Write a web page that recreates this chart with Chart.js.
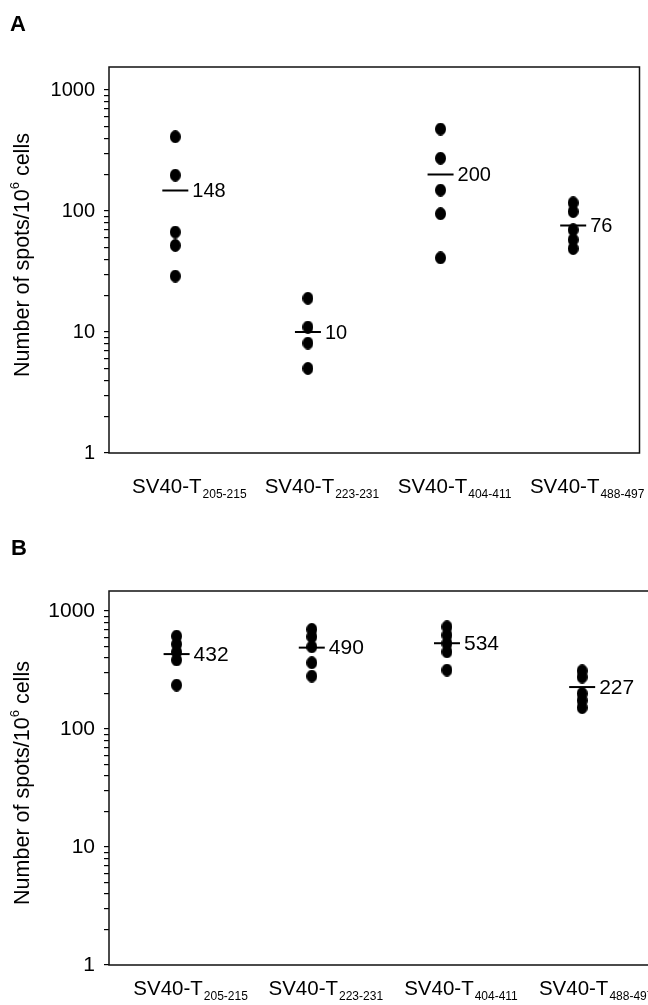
<!DOCTYPE html>
<html>
<head>
<meta charset="utf-8">
<script src="https://cdn.jsdelivr.net/npm/chart.js@4.4.1/dist/chart.umd.min.js"></script>
<style>
  html, body { margin: 0; padding: 0; background: #fff; overflow: hidden; }
  body { width: 648px; height: 1005px; position: relative; }
  canvas { position: absolute; left: 0; display: block; }
  #chartA { top: 0; }
  #chartB { top: 520px; }
</style>
</head>
<body>
<canvas id="chartA" width="648" height="520"></canvas>
<canvas id="chartB" width="648" height="485"></canvas>
<script>
// ========== Data ==========

const labelMain = 'SV40-T';
const labelSubs = ['205-215', '223-231', '404-411', '488-497'];
const yMajorTicks = [1, 10, 100, 1000];

// Panel A: spots per 10^6 cells, one array per peptide
const aSpots205 = [411, 198, 67, 52, 29];
const aSpots223 = [19, 11, 8.1, 5];
const aSpots404 = [476, 273, 149, 95, 41];
const aSpots488 = [117, 99, 70, 58, 49];
const aMeans = [148, 10, 200, 76];

// Panel B
const bSpots205 = [614, 525, 450, 385, 236];
const bSpots223 = [700, 606, 498, 365, 281];
const bSpots404 = [736, 626, 532, 452, 316];
const bSpots488 = [312, 276, 200, 175, 152];
const bMeans = [432, 490, 534, 227];

// ========== Helpers ==========

const FONT = '"Liberation Sans", Arial, Helvetica, sans-serif';

// minor ticks 1..9 per decade, up to the top major tick
const yTickValues = [];
yMajorTicks.forEach((m, i) => {
  if (i === yMajorTicks.length - 1) { yTickValues.push(m); return; }
  for (let k = 1; k <= 9; k++) yTickValues.push(m * k);
});

function makeDot(w, h) {
  const c = document.createElement('canvas');
  c.width = w;
  c.height = h;
  const g = c.getContext('2d');
  g.fillStyle = '#000';
  g.beginPath();
  g.ellipse(w / 2, h / 2, w / 2, h / 2, 0, 0, Math.PI * 2);
  g.fill();
  return c;
}

const dot = makeDot(11, 13);

function toPoints(groups) {
  const pts = [];
  groups.forEach((vals, i) => vals.forEach(v => pts.push({ x: i, y: v })));
  return pts;
}

// frame, mean labels, category labels, axis title, panel letter
function decorPlugin(cfg) {
  return {
    id: 'decor',
    afterDatasetsDraw(chart) {
      const ctx = chart.ctx;
      ctx.save();
      ctx.fillStyle = '#000';
      ctx.font = `${cfg.valueSize}px ${FONT}`;
      ctx.textAlign = 'left';
      ctx.textBaseline = 'middle';
      chart.getDatasetMeta(1).data.forEach((pt, i) => {
        ctx.fillText(String(cfg.means[i]), pt.x + 17, pt.y + 1);
      });
      ctx.restore();
    },
    afterDraw(chart) {
      const ctx = chart.ctx;
      const a = chart.chartArea;
      ctx.save();

      // frame (panel B runs off the right edge, so no right side)
      ctx.strokeStyle = '#111';
      ctx.lineWidth = 1.5;
      ctx.beginPath();
      if (cfg.rightSide) {
        ctx.rect(a.left, a.top, a.right - a.left, a.bottom - a.top);
      } else {
        ctx.moveTo(chart.width, a.top);
        ctx.lineTo(a.left, a.top);
        ctx.lineTo(a.left, a.bottom);
        ctx.lineTo(chart.width, a.bottom);
      }
      ctx.stroke();

      // category labels with subscripts
      ctx.fillStyle = '#000';
      ctx.textAlign = 'left';
      ctx.textBaseline = 'alphabetic';
      labelSubs.forEach((sub, i) => {
        ctx.font = `${cfg.catSize}px ${FONT}`;
        const wMain = ctx.measureText(labelMain).width;
        ctx.font = `${cfg.subSize}px ${FONT}`;
        const wSub = ctx.measureText(sub).width;
        const cx = chart.scales.x.getPixelForValue(i) + 14;
        const left = cx - (wMain + wSub + 1) / 2;
        ctx.font = `${cfg.catSize}px ${FONT}`;
        ctx.fillText(labelMain, left, cfg.catY);
        ctx.font = `${cfg.subSize}px ${FONT}`;
        ctx.fillText(sub, left + wMain + 1, cfg.catY + 5);
      });

      // y axis title with superscript
      const parts = [
        { t: 'Number of spots/10', s: cfg.titleSize, dy: 0 },
        { t: '6', s: Math.round(cfg.titleSize * 0.62), dy: -cfg.titleSize * 0.42 },
        { t: ' cells', s: cfg.titleSize, dy: 0 },
      ];
      let total = 0;
      parts.forEach(p => { ctx.font = `${p.s}px ${FONT}`; p.w = ctx.measureText(p.t).width; total += p.w; });
      ctx.translate(cfg.titleX, cfg.titleCY);
      ctx.rotate(-Math.PI / 2);
      let x = -total / 2;
      parts.forEach(p => { ctx.font = `${p.s}px ${FONT}`; ctx.fillText(p.t, x, p.dy); x += p.w; });
      ctx.setTransform(1, 0, 0, 1, 0, 0);

      // panel letter
      ctx.font = `bold 22px ${FONT}`;
      ctx.fillText(cfg.letter, cfg.letterX, cfg.letterY);
      ctx.restore();
    },
  };
}

// ========== Charts ==========

function makePanel(canvasId, groups, means, cfg) {
  const ctx = document.getElementById(canvasId).getContext('2d');
  return new Chart(ctx, {
    type: 'scatter',
    data: {
      datasets: [{
        label: 'Spots',
        data: toPoints(groups),
        pointStyle: dot,
        pointRadius: 6,
        showLine: false,
      }, {
        label: 'Mean',
        data: means.map((m, i) => ({ x: i, y: m })),
        pointStyle: 'line',
        pointRadius: 13,
        pointBorderWidth: 2,
        borderColor: '#000',
        backgroundColor: '#000',
        showLine: false,
      }],
    },
    options: {
      responsive: false,
      animation: false,
      layout: {
        autoPadding: false,
        padding: { top: cfg.padTop, right: cfg.padRight, bottom: cfg.padBottom, left: 0 },
      },
      plugins: { legend: { display: false }, tooltip: { enabled: false } },
      scales: {
        x: { type: 'linear', display: false, min: -0.5, max: cfg.xMax },
        y: {
          type: 'logarithmic',
          min: 1,
          max: cfg.yMax,
          afterFit: s => { s.width = 109; },
          afterBuildTicks: s => { s.ticks = yTickValues.map(v => ({ value: v })); },
          border: { display: false },
          grid: { drawOnChartArea: false, drawTicks: true, tickLength: 5, color: '#000', lineWidth: 1.2 },
          ticks: {
            autoSkip: false,
            padding: 9,
            color: '#000',
            font: { family: FONT, size: cfg.tickSize },
            callback: v => yMajorTicks.includes(v) ? String(v) : '',
          },
        },
      },
    },
    plugins: [decorPlugin(Object.assign({ means }, cfg))],
  });
}

makePanel('chartA', [aSpots205, aSpots223, aSpots404, aSpots488], aMeans, {
  padTop: 67, padRight: 8.5, padBottom: 67, yMax: 1550, xMax: 3.5, rightSide: true,
  tickSize: 20, valueSize: 20, catSize: 20.5, subSize: 12, catY: 493,
  titleSize: 21.5, titleX: 28.5, titleCY: 255,
  letter: 'A', letterX: 10, letterY: 31,
});

makePanel('chartB', [bSpots205, bSpots223, bSpots404, bSpots488], bMeans, {
  padTop: 71, padRight: 0, padBottom: 40, yMax: 1480, xMax: 3.487, rightSide: false,
  tickSize: 21, valueSize: 21, catSize: 20.5, subSize: 12, catY: 475,
  titleSize: 21.5, titleX: 28.5, titleCY: 263,
  letter: 'B', letterX: 11, letterY: 35,
});
</script>
</body>
</html>
